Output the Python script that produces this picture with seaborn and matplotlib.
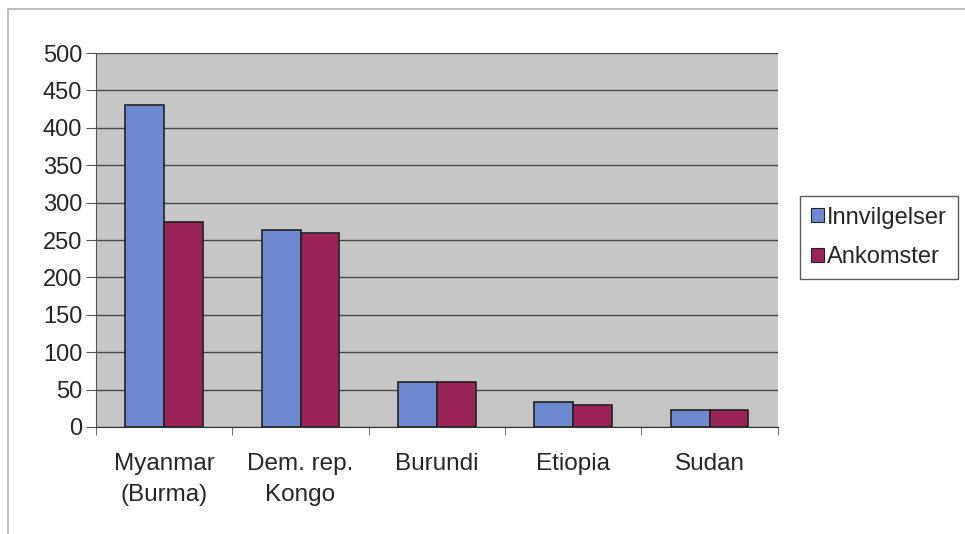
import pandas as pd
import seaborn as sns
import matplotlib.pyplot as plt
from matplotlib.patches import Rectangle

countries = ["Myanmar\n(Burma)", "Dem. rep.\nKongo", "Burundi", "Etiopia", "Sudan"]
innvilgelser = [431, 263, 60, 34, 23]
ankomster = [274, 260, 60, 29, 23]
series = ["Innvilgelser", "Ankomster"]
yticks = list(range(0, 501, 50))

df = pd.DataFrame({
    "land": countries * 2,
    "antall": innvilgelser + ankomster,
    "serie": [series[0]] * len(countries) + [series[1]] * len(countries),
})

sns.set_style("white")
plt.rcParams["font.family"] = ["Liberation Sans", "DejaVu Sans"]

fig = plt.figure(figsize=(9.65, 5.34), dpi=100)
ax = fig.add_axes([0.0995, 0.2004, 0.7065, 0.7003])
# outer chart frame (runs off the right and bottom edges like the scan)
fig.patches.append(Rectangle((0.008, -0.05), 1.1, 1.033, transform=fig.transFigure,
                             fill=False, edgecolor="#b0b0b0", linewidth=1.2))

sns.barplot(data=df, x="land", y="antall", hue="serie", order=countries,
            palette=["#6e89cf", "#9a2457"], width=0.57, gap=0,
            edgecolor="#222222", linewidth=1.2, saturation=1, ax=ax)

ax.set_facecolor("#c6c6c6")
ax.set_ylim(0, 500)
ax.set_xlim(-0.5, len(countries) - 0.5)
ax.set_yticks(yticks)
ax.yaxis.grid(True, color="#4a4a4a", linewidth=1)
ax.set_axisbelow(True)
for side in ["top", "right"]:
    ax.spines[side].set_visible(False)
ax.spines["left"].set_color("#555555")
ax.spines["bottom"].set_color("#333333")
ax.set_xlabel("")
ax.set_ylabel("")
ax.tick_params(axis="y", labelsize=17, length=7, direction="out", left=True, color="#555555", pad=3)
ax.tick_params(axis="x", labelsize=17.5, length=0, pad=19)
for lbl in ax.get_xticklabels():
    lbl.set_linespacing(1.5)
ax.set_xticks([i - 0.5 for i in range(len(countries) + 1)], minor=True)
ax.tick_params(axis="x", which="minor", length=6, bottom=True, color="#555555")

ax.legend_.remove()
handles = [Rectangle((0, 0), 1, 1, facecolor=c, edgecolor="#222222", linewidth=0.8)
           for c in ["#6e89cf", "#9a2457"]]
fig.legend(handles, series, loc="upper left", bbox_to_anchor=(0.829, 0.633),
           fontsize=17, frameon=True, fancybox=False, edgecolor="#333333",
           handlelength=0.55, handleheight=0.55, handletextpad=0.15,
           labelspacing=0.75, borderpad=0.45, borderaxespad=0)

plt.savefig("out.png", dpi=100)
